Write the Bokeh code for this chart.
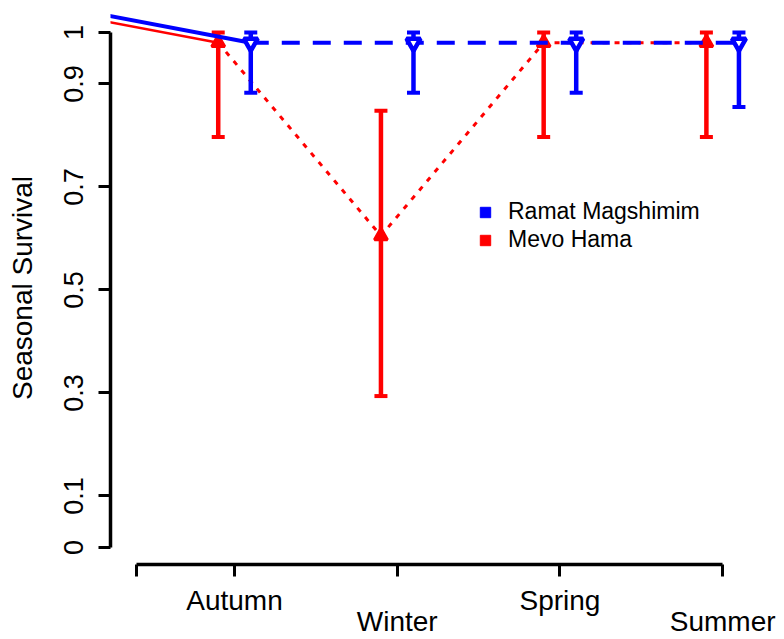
from bokeh.plotting import figure
from bokeh.models import (Range1d, FixedTicker, LinearAxis, Legend, LegendItem,
                          ColumnDataSource)
from bokeh.embed import file_html
from bokeh.resources import INLINE

# ---------------- data ----------------
seasons = ["Autumn", "Winter", "Spring", "Summer"]
season_x = [1, 2, 3, 4]

# value carried in from the preceding season (off the left edge of the plot)
prev_x = 0
prev_ramat = 1.04
prev_mevo = 1.04

ramat_surv = [0.98, 0.98, 0.98, 0.98]
ramat_lower = [0.883, 0.883, 0.883, 0.855]
ramat_upper = [1.0, 1.0, 1.0, 1.0]

mevo_surv = [0.98, 0.605, 0.98, 0.98]
mevo_lower = [0.797, 0.294, 0.797, 0.797]
mevo_upper = [1.0, 0.848, 1.0, 1.0]

y_ticks = [0, 0.1, 0.3, 0.5, 0.7, 0.9, 1]
y_tick_labels = ["0", "0.1", "0.3", "0.5", "0.7", "0.9", "1"]
x_axis_start = 0.4

series_names = ["Ramat Magshimim", "Mevo Hama"]

# ---------------- styling ----------------
FONT = "Liberation Sans"
BLUE = "#0000ff"
RED = "#ff0000"
OFF = 0.1

ramat_x = [x + OFF for x in season_x]
mevo_x = [x - OFF for x in season_x]

p = figure(width=784, height=639,
           x_range=Range1d(0.238, 4.38), y_range=Range1d(-0.033, 1.0406),
           x_axis_type=None, y_axis_type=None,
           output_backend="svg", toolbar_location=None,
           min_border_left=110, min_border_right=0,
           min_border_top=11, min_border_bottom=73)
p.outline_line_color = None

# ---------------- Mevo Hama (red) ----------------
p.line([prev_x - OFF, mevo_x[0]], [prev_mevo, mevo_surv[0]],
       line_color=RED, line_width=2.5)
p.line(mevo_x, mevo_surv, line_color=RED, line_width=3, line_dash="5 7")
p.segment(x0=mevo_x, y0=mevo_lower, x1=mevo_x, y1=mevo_upper,
          line_color=RED, line_width=4.5)
p.scatter(mevo_x, mevo_lower, marker="dash", size=13, line_color=RED, line_width=4)
p.scatter(mevo_x, mevo_upper, marker="dash", size=13, line_color=RED, line_width=4)
p.scatter(mevo_x, mevo_surv, marker="triangle", size=13,
          line_color=RED, fill_color=RED, line_width=3)

# ---------------- Ramat Magshimim (blue) ----------------
p.line([prev_x + OFF, ramat_x[0]], [prev_ramat, ramat_surv[0]],
       line_color=BLUE, line_width=4)
p.line(ramat_x, ramat_surv, line_color=BLUE, line_width=4, line_dash="18 13")
p.segment(x0=ramat_x, y0=ramat_lower, x1=ramat_x, y1=ramat_upper,
          line_color=BLUE, line_width=4.5)
p.scatter(ramat_x, ramat_lower, marker="dash", size=13, line_color=BLUE, line_width=4)
p.scatter(ramat_x, ramat_upper, marker="dash", size=13, line_color=BLUE, line_width=4)
p.scatter(ramat_x, ramat_surv, marker="inverted_triangle", size=14,
          line_color=BLUE, fill_color="white", line_width=4.5)

# ---------------- legend ----------------
nan = float("nan")
key_b = ColumnDataSource(dict(x=[nan], y=[nan]))
key_r = ColumnDataSource(dict(x=[nan], y=[nan]))
sq_b = p.scatter("x", "y", source=key_b, marker="square", color=BLUE)
sq_r = p.scatter("x", "y", source=key_r, marker="square", color=RED)
legend = Legend(items=[LegendItem(label=series_names[0], renderers=[sq_b]),
                       LegendItem(label=series_names[1], renderers=[sq_r])],
                location=(362, 311), glyph_width=26, glyph_height=26,
                spacing=1, padding=0, margin=0, label_standoff=10,
                border_line_color=None, background_fill_alpha=0,
                label_text_font=FONT, label_text_font_size="23px",
                label_text_color="black")
p.add_layout(legend)

# ---------------- axes ----------------
yax = LinearAxis(ticker=FixedTicker(ticks=y_ticks), bounds=(0, 1),
                 major_label_overrides={t: l for t, l in zip(y_ticks, y_tick_labels)},
                 major_label_orientation="vertical",
                 axis_line_width=3.5, axis_line_color="black",
                 major_tick_line_width=3, major_tick_line_color="black",
                 major_tick_out=12, major_tick_in=0,
                 minor_tick_out=0, minor_tick_in=0,
                 major_label_standoff=15,
                 major_label_text_font=FONT, major_label_text_font_size="27px",
                 major_label_text_color="black",
                 axis_label="Seasonal Survival", axis_label_standoff=24,
                 axis_label_text_font=FONT, axis_label_text_font_size="28px",
                 axis_label_text_font_style="normal", axis_label_text_color="black")
p.add_layout(yax, "left")

x_ticks = [x_axis_start] + season_x
upper_row = {x_axis_start: ""}
lower_row = {x_axis_start: ""}
for i, (x, s) in enumerate(zip(season_x, seasons)):
    upper_row[x] = s if i % 2 == 0 else ""
    lower_row[x] = s if i % 2 == 1 else ""

common = dict(ticker=FixedTicker(ticks=x_ticks), bounds=(x_axis_start, season_x[-1]),
              minor_tick_out=0, minor_tick_in=0, major_tick_in=0,
              major_label_text_font=FONT, major_label_text_font_size="28px",
              major_label_text_color="black")

xax = LinearAxis(major_label_overrides=upper_row,
                 axis_line_width=3.5, axis_line_color="black",
                 major_tick_line_width=3, major_tick_line_color="black",
                 major_tick_out=12, major_label_standoff=8, **common)
p.add_layout(xax, "below")

xax2 = LinearAxis(major_label_overrides=lower_row,
                  axis_line_color=None, major_tick_line_color=None,
                  major_tick_out=0, major_label_standoff=-13, **common)
p.add_layout(xax2, "below")

open("out.html", "w").write(file_html(p, INLINE))
